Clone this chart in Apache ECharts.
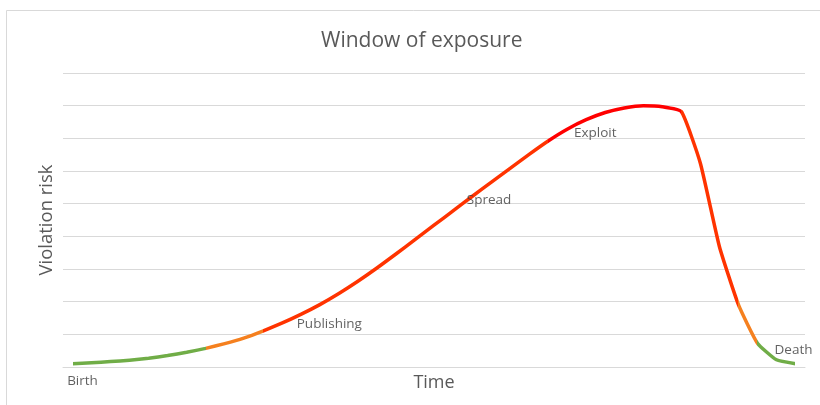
<!DOCTYPE html>
<html>
<head>
<meta charset="utf-8">
<script src="https://cdn.jsdelivr.net/npm/echarts@6/dist/echarts.min.js"></script>
<style>
html,body{margin:0;padding:0;background:#fff;}
#chart{width:820px;height:405px;}
</style>
</head>
<body>
<div id="chart"></div>
<script>
// Data (39 evenly spaced time steps)
var timeSteps = [];
for (var k = 1; k <= 39; k++) { timeSteps.push(String(k)); }
var riskValues = [
  0.10, 0.13, 0.165, 0.21, 0.27, 0.35, 0.45, 0.57, 0.715, 0.885,
  1.10, 1.34, 1.61, 1.91, 2.25, 2.625, 3.03, 3.46, 3.90, 4.34,
  4.78, 5.22, 5.65, 6.08, 6.51, 6.92, 7.28, 7.57, 7.79, 7.93,
  8.00, 7.97, 7.82, 6.24, 3.69, 1.91, 0.73, 0.22, 0.10
];
var stageNames = ['Birth', 'Publishing', 'Spread', 'Exploit', 'Death'];
var stageIndex = [0, 13, 21, 27, 38];
// colour phases along the time axis: [fromIndex, toIndex]
var phaseStarts = [0, 7, 10, 25, 32, 35, 36];
var phaseEnds   = [7, 10, 25, 32, 35, 36, 38];
var phaseColors = ['#70AD47', '#F5801F', '#FF3300', '#FF0000', '#FF3300', '#F5801F', '#70AD47'];
var yTicks = [0, 1, 2, 3, 4, 5, 6, 7, 8, 9];

var labelOffsets = {
  'Birth':      [10, 17],
  'Publishing': [9.5, 20],
  'Spread':     [17, 4],
  'Exploit':    [9, 13.5],
  'Death':      [-2, -14]
};

var stageData = stageIndex.map(function (idx, i) {
  var name = stageNames[i];
  return {
    value: [idx, riskValues[idx]],
    label: {
      show: true,
      formatter: name,
      position: 'inside',
      align: 'center',
      verticalAlign: 'middle',
      offset: labelOffsets[name],
      color: '#3A3A3A',
      fontSize: 13.5,
      fontFamily: 'Open Sans'
    }
  };
});

var pieces = phaseStarts.map(function (s, i) {
  var p = { gte: s, color: phaseColors[i] };
  if (i < phaseStarts.length - 1) p.lt = phaseEnds[i]; else p.lte = phaseEnds[i];
  return p;
});

var chart = echarts.init(document.getElementById('chart'), null, { renderer: 'canvas' });
chart.setOption({
  backgroundColor: '#fff',
  animation: false,
  title: {
    text: 'Window of exposure',
    left: 316,
    top: 26,
    textStyle: { fontFamily: 'Open Sans', fontSize: 21, fontWeight: 'normal', color: '#595959' }
  },
  graphic: [{
    type: 'rect',
    shape: { x: 6.5, y: 10.5, width: 900, height: 500 },
    style: { fill: 'none', stroke: '#D9D9D9', lineWidth: 1 },
    silent: true
  }],
  grid: { left: 63, right: 15, top: 73, bottom: 38 },
  visualMap: {
    show: false,
    type: 'piecewise',
    seriesIndex: 0,
    dimension: 0,
    pieces: pieces
  },
  xAxis: {
    type: 'category',
    data: timeSteps,
    boundaryGap: true,
    name: 'Time',
    nameLocation: 'middle',
    nameGap: 7,
    nameTextStyle: { fontFamily: 'Open Sans', fontSize: 18, color: '#595959', verticalAlign: 'top' },
    axisLine: { show: true, lineStyle: { color: '#D9D9D9' } },
    axisTick: { show: false },
    axisLabel: { show: false }
  },
  yAxis: {
    type: 'value',
    min: yTicks[0],
    max: yTicks[yTicks.length - 1],
    interval: 1,
    name: 'Violation risk',
    nameLocation: 'middle',
    nameGap: 7,
    nameTextStyle: { fontFamily: 'Open Sans', fontSize: 18.5, color: '#595959' },
    axisLine: { show: false },
    axisTick: { show: false },
    axisLabel: { show: false },
    splitLine: { lineStyle: { color: '#D9D9D9', width: 1 } }
  },
  series: [{
    type: 'line',
    data: riskValues,
    smooth: 0.15,
    symbol: 'none',
    lineStyle: { width: 3.5, cap: 'round', join: 'round' },
    emphasis: { disabled: true }
  }, {
    type: 'scatter',
    data: stageData,
    symbolSize: 1,
    itemStyle: { color: 'rgba(0,0,0,0)' },
    emphasis: { disabled: true },
    z: 5
  }]
});
</script>
</body>
</html>
